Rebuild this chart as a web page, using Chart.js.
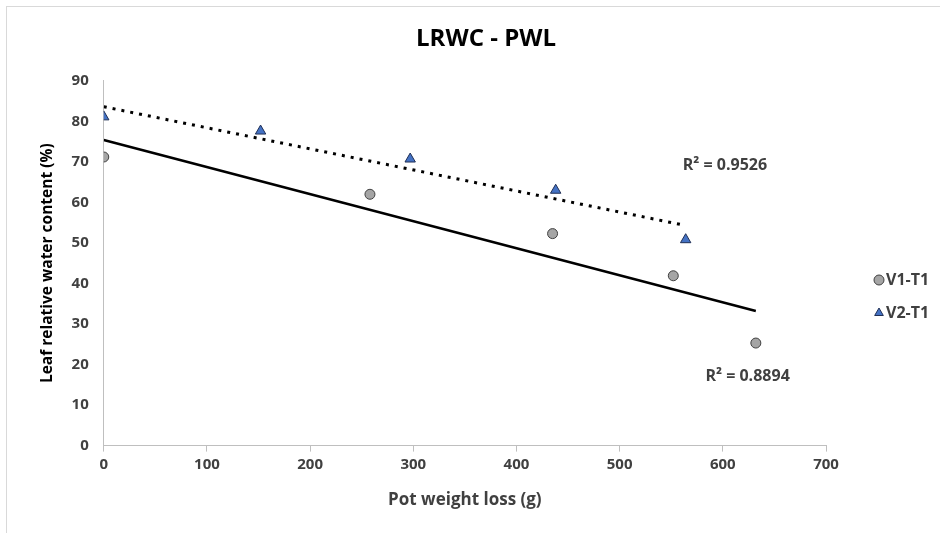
<!DOCTYPE html>
<html>
<head>
<meta charset="utf-8">
<script src="https://cdn.jsdelivr.net/npm/chart.js@4"></script>
<style>
  html, body { margin: 0; padding: 0; background: #fff; }
  #wrap { position: relative; width: 940px; height: 533px; }
  #frame { position: absolute; left: 6px; top: 6px; right: 0; bottom: 0;
           border-left: 1px solid #d9d9d9; border-top: 1px solid #d9d9d9; }
  canvas { position: absolute; left: 0; top: 0; }
</style>
</head>
<body>
<div id="wrap">
  <div id="frame"></div>
  <canvas id="chart" width="940" height="533"></canvas>
</div>
<script>
// measured points
const v1X = [0, 258, 435, 552, 632];
const v1Y = [71.2, 62.0, 52.3, 41.9, 25.3];
const v2X = [0, 152, 297, 438, 564];
const v2Y = [81.1, 77.6, 70.7, 63.0, 50.8];

// trendline ends
const v1TrendX = [0, 632];
const v1TrendY = [75.4, 33.2];
const v2TrendX = [0, 564];
const v2TrendY = [83.6, 54.3];

const r2Labels = ['R² = 0.8894', 'R² = 0.9526'];
const r2AtX = [624, 602];
const r2AtY = [17.1, 69.2];

const FONT = "'Open Sans', sans-serif";
const TEXT = '#404040';

const toPts = (xs, ys) => xs.map((x, i) => ({ x: x, y: ys[i] }));

const r2Plugin = {
  id: 'r2text',
  afterDatasetsDraw(chart) {
    const { ctx, scales } = chart;
    ctx.save();
    ctx.font = 'bold 16px ' + FONT;
    ctx.fillStyle = TEXT;
    ctx.textAlign = 'center';
    ctx.textBaseline = 'middle';
    r2Labels.forEach((t, i) => {
      ctx.fillText(t, scales.x.getPixelForValue(r2AtX[i]), scales.y.getPixelForValue(r2AtY[i]));
    });
    ctx.restore();
  }
};

// legend drawn by hand so it sits where Excel put it
const sideLegend = {
  id: 'sideLegend',
  afterDraw(chart) {
    const ctx = chart.ctx;
    const x = chart.width - 61;
    const rows = [280, 313];
    ctx.save();
    ctx.font = 'bold 16px ' + FONT;
    ctx.textBaseline = 'middle';
    ctx.textAlign = 'left';
    [0, 1].forEach((di, i) => {
      const ds = chart.data.datasets[di];
      ctx.fillStyle = ds.backgroundColor;
      ctx.strokeStyle = ds.borderColor;
      ctx.lineWidth = 1;
      Chart.helpers.drawPoint(ctx, { pointStyle: ds.pointStyle, radius: 5, rotation: 0, borderWidth: 1 }, x, rows[i]);
      ctx.fillStyle = TEXT;
      ctx.fillText(ds.label, x + 7, rows[i]);
    });
    ctx.restore();
  }
};

new Chart(document.getElementById('chart'), {
  type: 'scatter',
  data: {
    datasets: [
      {
        label: 'V1-T1',
        data: toPts(v1X, v1Y),
        pointStyle: 'circle',
        pointRadius: 5,
        backgroundColor: '#a5a5a5',
        borderColor: '#404040',
        borderWidth: 1
      },
      {
        label: 'V2-T1',
        data: toPts(v2X, v2Y),
        pointStyle: 'triangle',
        pointRadius: 6,
        backgroundColor: '#4472c4',
        borderColor: '#1f2f55',
        borderWidth: 1
      },
      {
        label: 'trend1',
        data: toPts(v1TrendX, v1TrendY),
        showLine: true,
        pointRadius: 0,
        borderColor: '#000',
        borderWidth: 2.5,
        order: 5
      },
      {
        label: 'trend2',
        data: toPts(v2TrendX, v2TrendY),
        showLine: true,
        pointRadius: 0,
        borderColor: '#000',
        borderWidth: 3,
        borderDash: [3, 6],
        order: 5
      }
    ]
  },
  options: {
    responsive: false,
    animation: false,
    layout: { padding: { left: 38, right: 6, bottom: 19 } },
    plugins: {
      title: {
        display: true,
        text: 'LRWC - PWL',
        color: '#000',
        font: { family: FONT, size: 24, weight: 'bold' },
        padding: { top: 25, bottom: 27 }
      },
      legend: { display: false },
      tooltip: { enabled: false }
    },
    scales: {
      x: {
        type: 'linear',
        min: 0,
        max: 700,
        ticks: { stepSize: 100, color: TEXT, padding: 4, font: { family: FONT, size: 15, weight: 'bold' } },
        grid: { drawOnChartArea: false, drawTicks: true, tickLength: 6, color: '#bfbfbf' },
        border: { display: true, color: '#bfbfbf', width: 1 },
        title: {
          display: true,
          text: 'Pot weight loss (g)',
          color: TEXT,
          font: { family: FONT, size: 17, weight: 'bold' },
          padding: { top: 12 }
        }
      },
      y: {
        min: 0,
        max: 90,
        ticks: { stepSize: 10, color: TEXT, padding: 15, font: { family: FONT, size: 15, weight: 'bold' } },
        grid: { drawOnChartArea: false, drawTicks: false },
        border: { display: true, color: '#bfbfbf', width: 1 },
        title: {
          display: true,
          text: 'Leaf relative water content (%)',
          color: '#000',
          font: { family: FONT, size: 15.5, weight: 'bold' },
          padding: { top: 0, bottom: 0 }
        }
      },
      // empty right-hand scale that keeps room for the legend
      side: {
        type: 'linear',
        position: 'right',
        display: true,
        grid: { display: false },
        border: { display: false },
        ticks: { display: false },
        afterFit(scale) { scale.width = 108; }
      }
    }
  },
  plugins: [r2Plugin, sideLegend]
});
</script>
</body>
</html>
